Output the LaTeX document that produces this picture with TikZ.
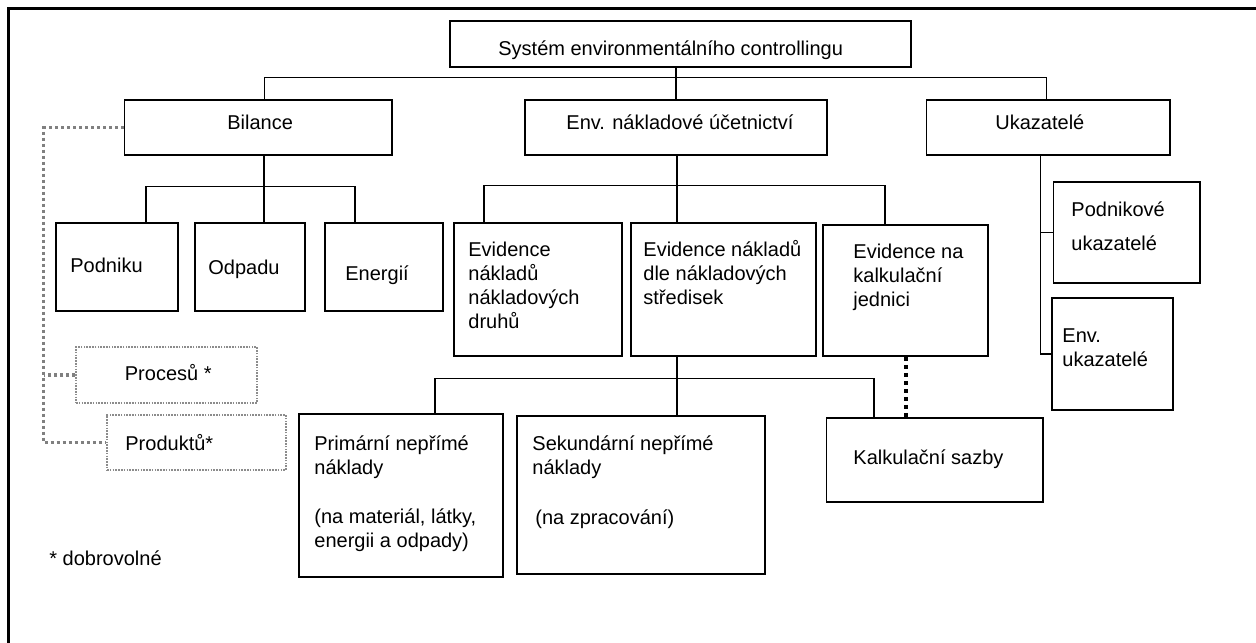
\documentclass[tikz,border=0pt]{standalone}
\usepackage{fontspec}
\setmainfont{Liberation Sans}
\usetikzlibrary{calc,fit}

\begin{document}
\begin{tikzpicture}[x=0.5pt,y=-0.5pt,
    box/.style={draw,line width=0.75pt,inner sep=0pt},
    optbox/.style={draw=black!45,line width=0.75pt,dash pattern=on 0.8pt off 0.6pt,inner sep=0pt},
    lbl/.style={anchor=base west,inner sep=0pt,align=left,font=\fontsize{10}{12}\selectfont},
    conn/.style={line width=0.7pt},
    optline/.style={draw=black!50,line width=1.6pt,dash pattern=on 1.6pt off 1.4pt},
    calcline/.style={line width=2pt,dash pattern=on 2.3pt off 1.7pt}]
  \useasboundingbox (0,0) rectangle (1256,642);
  \clip (0,0) rectangle (1256,642);
  \draw[line width=1.25pt] (8.5,8.5) rectangle (1290,690);
  % boxes
  \node[box,fit={(450,21) (911,67)}](sys){};
  \node[box,fit={(124.5,100) (392,155)}](bil){};
  \node[box,fit={(525,100) (827,155)}](env){};
  \node[box,fit={(926.5,100) (1170,155)}](uk){};
  \node[box,fit={(56,223) (178,311)}](pod){};
  \node[box,fit={(195,223) (305,311)}](odp){};
  \node[box,fit={(325,223) (443,311)}](ene){};
  \node[box,fit={(454,223) (622,356)}](evd){};
  \node[box,fit={(631,223) (816,356)}](evs){};
  \node[box,fit={(823,225) (988,356)}](evk){};
  \node[box,fit={(1053.5,182) (1200,283)}](pku){};
  \node[box,fit={(1052,298) (1173,410)}](eku){};
  \node[optbox,fit={(76,347) (257,403)}](proc){};
  \node[optbox,fit={(107,415) (286,470)}](prod){};
  \node[box,fit={(299,414) (503,577)}](pri){};
  \node[box,fit={(517,416) (765,574)}](sek){};
  \node[box,fit={(826.5,418) (1043,502)}](kal){};
  % texts (base = last line)
  \node[lbl](tsys) at (498,56) {Systém environmentálního controllingu};
  \node[lbl](tbil) at (227,129) {Bilance};
  \node[lbl](tenv) at (566,129) {Env. nákladové účetnictví};
  \node[lbl](tuk) at (995,129) {Ukazatelé};
  \node[lbl](tpod) at (70,272) {Podniku};
  \node[lbl](todp) at (208,274) {Odpadu};
  \node[lbl](tene) at (345,280) {Energií};
  \node[lbl](tevd) at (468,328) {Evidence\\nákladů\\nákladových\\druhů};
  \node[lbl](tevs) at (643,304) {Evidence nákladů\\dle nákladových\\středisek};
  \node[lbl](tevk) at (853,306) {Evidence na\\kalkulační\\jednici};
  \node[lbl](tpku) at (1071,250) {Podnikové\\[5pt]ukazatelé};
  \node[lbl](teku) at (1062,366) {Env.\\ukazatelé};
  \node[lbl](tproc) at (124.5,380) {Procesů *};
  \node[lbl](tprod) at (125,450) {Produktů*};
  \node[lbl](tpri) at (314,547) {Primární nepřímé\\náklady\\[12.5pt](na materiál, látky,\\energii a odpady)};
  \node[lbl](tsek) at (532,474) {Sekundární nepřímé\\náklady};
  \node[lbl](tsekz) at (535,524) {(na zpracování)};
  \node[lbl](tkal) at (853,464) {Kalkulační sazby};
  \node[lbl](tdob) at (49,565) {* dobrovolné};
  % tree
  \draw[conn] (sys.south -| env.north) -- (env.north);
  \draw[conn] ($(bil.north)+(6,0)$) -- ++(0,-22) -| ($(uk.north)+(-2,0)$);
  \draw[conn] ($(pod.north)+(29,0)$) -- ++(0,-36) -| ($(ene.north)+(-29,0)$);
  \draw[conn] ($(odp.north)+(14,0)$) -- ++(0,-68);
  \draw[conn] ($(evd.north)+(-54,0)$) -- ++(0,-37) -| ($(evk.north)+(-20.5,0)$);
  \draw[conn] ($(evs.north)+(-46.5,0)$) -- ++(0,-68);
  \coordinate (ukst) at ($(uk.south)+(-8,0)$);
  \draw[conn] (ukst) |- (eku.west);
  \draw[conn] (pku.west) -- (pku.west -| ukst);
  \draw[conn] ($(evs.south)+(-46.5,0)$) -- ++(0,60);
  \draw[conn] ($(pri.north)+(34,0)$) -- ++(0,-35) -| ($(kal.north)+(-60.75,0)$);
  \draw[calcline] (evk.south) -- (evk.south |- kal.north);
  % optional items
  \coordinate (gd) at ($(bil.west)+(-80,0)$);
  \draw[optline] (bil.west) -- (gd) |- (prod.west);
  \draw[optline] (proc.west) -- (proc.west -| gd);
\end{tikzpicture}
\end{document}
